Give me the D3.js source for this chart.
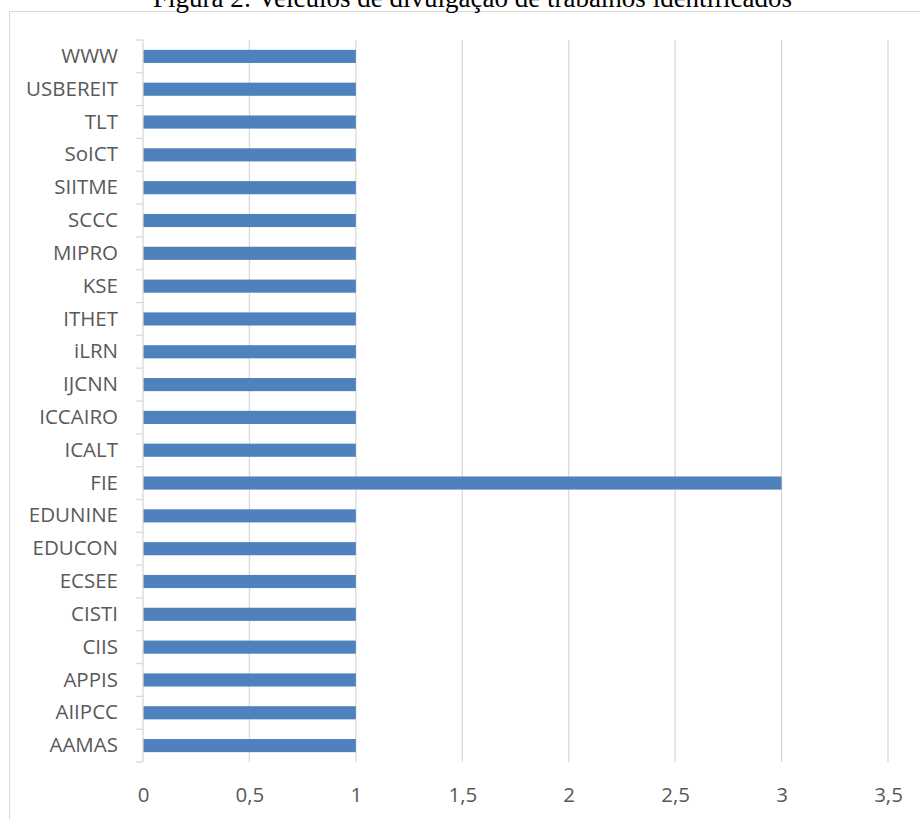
<!DOCTYPE html>
<html>
<head>
<meta charset="utf-8">
<script src="https://cdn.jsdelivr.net/npm/d3@7"></script>
<style>
  body { margin: 0; background: #fff; }
  svg { display: block; }
  .tick text { font-family: "Open Sans", sans-serif; fill: #595959; }
</style>
</head>
<body>
<svg id="chart" width="920" height="819"></svg>
<script>
// data, listed bottom to top as in the source sheet
const categories = ['AAMAS', 'AIIPCC', 'APPIS', 'CIIS', 'CISTI', 'ECSEE', 'EDUCON', 'EDUNINE', 'FIE',
  'ICALT', 'ICCAIRO', 'IJCNN', 'iLRN', 'ITHET', 'KSE', 'MIPRO', 'SCCC', 'SIITME', 'SoICT', 'TLT',
  'USBEREIT', 'WWW'];
const counts = [1, 1, 1, 1, 1, 1, 1, 1, 3, 1, 1, 1, 1, 1, 1, 1, 1, 1, 1, 1, 1, 1];
const xTicks = [0, 0.5, 1, 1.5, 2, 2.5, 3, 3.5];
const title = 'Figura 2: Veículos de divulgação de trabalhos identificados';

const rows = categories.map((c, i) => ({ name: c, value: counts[i] }));

const svg = d3.select('#chart');
const margin = { top: 40, right: 32, bottom: 57, left: 143 };
const width = 920 - margin.left - margin.right;
const height = 819 - margin.top - margin.bottom;

// chart frame (cut by the page on the right and bottom)
svg.append('rect')
  .attr('x', 9.5).attr('y', 11.5)
  .attr('width', 940).attr('height', 840)
  .attr('fill', 'none').attr('stroke', '#d9d9d9');

// title, mostly cut off at the top
svg.append('text')
  .attr('x', 153).attr('y', 7)
  .attr('font-family', '"Liberation Serif", "Times New Roman", serif')
  .attr('font-size', 27)
  .attr('fill', '#000')
  .text(title);

const chart = svg.append('g')
  .attr('transform', `translate(${margin.left},${margin.top})`);

const x = d3.scaleLinear().domain([0, 3.5]).range([0, width]);
const y = d3.scaleBand()
  .domain(categories.slice().reverse())
  .range([0, height])
  .paddingInner(0.6)
  .paddingOuter(0.3);

// vertical gridlines
chart.append('g')
  .selectAll('line')
  .data(xTicks.filter(d => d > 0))
  .join('line')
  .attr('x1', d => x(d)).attr('x2', d => x(d))
  .attr('y1', 0).attr('y2', height)
  .attr('stroke', '#d9d9d9')
  .attr('stroke-width', 1.3);

// x axis labels only
const xAxis = chart.append('g')
  .attr('transform', `translate(0,${height})`)
  .call(d3.axisBottom(x).tickValues(xTicks).tickSize(0).tickPadding(25)
    .tickFormat(d => String(d).replace('.', ',')));
xAxis.select('.domain').remove();
xAxis.selectAll('text').attr('font-size', 20.5);

// bars
chart.append('g')
  .selectAll('rect')
  .data(rows)
  .join('rect')
  .attr('x', x(0))
  .attr('y', d => y(d.name))
  .attr('width', d => x(d.value) - x(0))
  .attr('height', y.bandwidth())
  .attr('fill', '#4f81bd');

// category axis with the Excel style ticks between categories
const yAxis = chart.append('g')
  .call(d3.axisLeft(y).tickSize(0).tickPadding(25));
yAxis.select('.domain')
  .attr('stroke', '#d9d9d9').attr('stroke-width', 1.3)
  .attr('d', `M0,0V${height}`);
yAxis.selectAll('text').attr('font-size', 20.5);

const boundaries = d3.range(categories.length + 1).map(i => i * height / categories.length);
chart.append('g')
  .selectAll('line')
  .data(boundaries)
  .join('line')
  .attr('x1', -7).attr('x2', 0)
  .attr('y1', d => d).attr('y2', d => d)
  .attr('stroke', '#d9d9d9')
  .attr('stroke-width', 1.3);
</script>
</body>
</html>
